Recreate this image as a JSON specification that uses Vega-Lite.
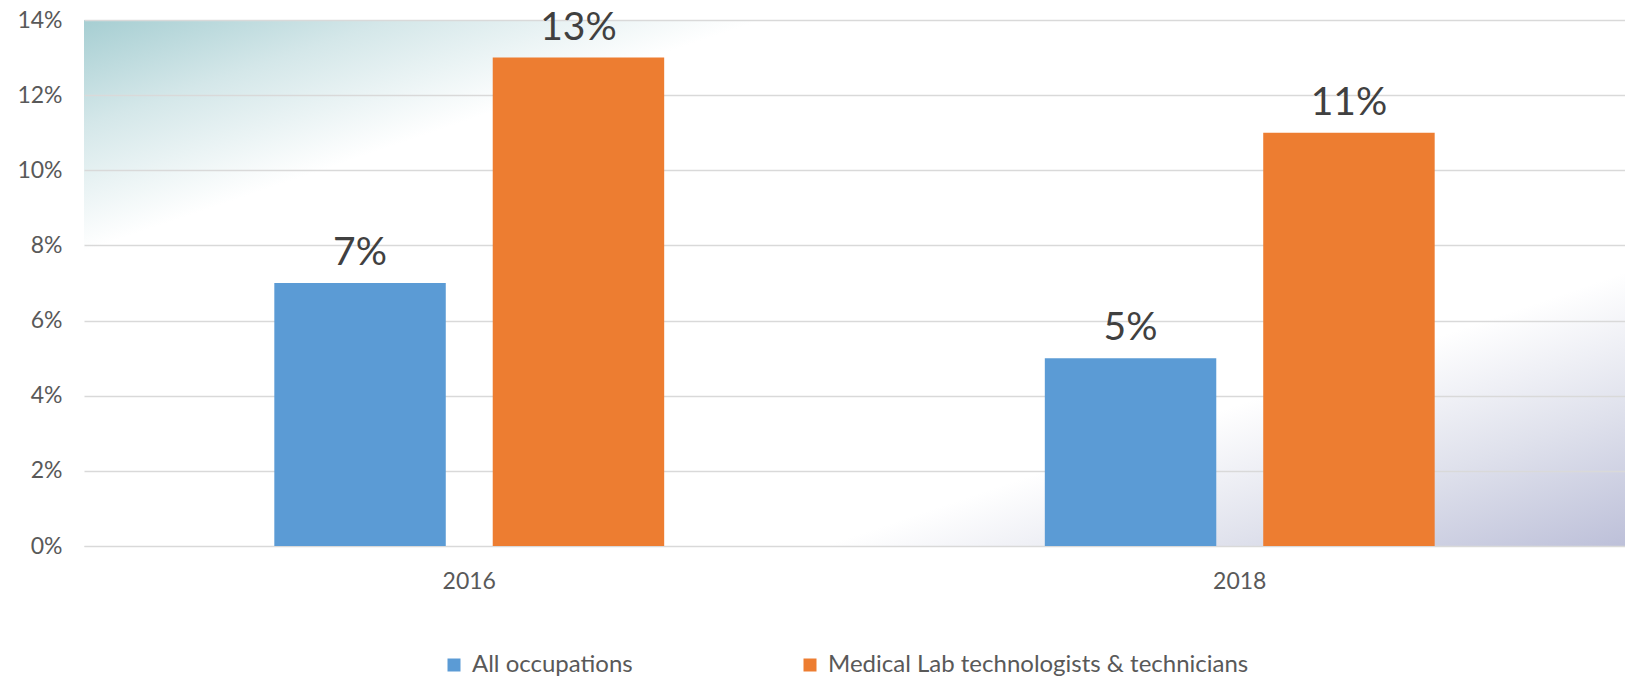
{
  "$schema": "https://vega.github.io/schema/vega-lite/v6.json",
  "width": 1541,
  "height": 526,
  "autosize": {"type": "none"},
  "padding": {"left": 84, "top": 20, "right": 0, "bottom": 133},
  "background": "#ffffff",
  "config": {
    "view": {
      "stroke": null,
      "fill": {
        "gradient": "linear", "x1": 0, "y1": 0, "x2": 1, "y2": 1,
        "stops": [
          {"offset": 0, "color": "#A6CED2"},
          {"offset": 0.1, "color": "#D4E7E9"},
          {"offset": 0.22, "color": "#FFFFFF"},
          {"offset": 0.74, "color": "#FFFFFF"},
          {"offset": 0.87, "color": "#DFE1EC"},
          {"offset": 1, "color": "#BDC0D9"}
        ]
      }
    },
    "font": "Lato",
    "axis": {"labelFont": "Lato", "labelColor": "#595959", "labelFontSize": 23, "title": null},
    "legend": {"labelFont": "Lato"}
  },
  "data": {
    "values": [
      {"year": "2016", "group": "All occupations", "value": 0.07},
      {"year": "2016", "group": "Medical Lab technologists & technicians", "value": 0.13},
      {"year": "2018", "group": "All occupations", "value": 0.05},
      {"year": "2018", "group": "Medical Lab technologists & technicians", "value": 0.11}
    ]
  },
  "encoding": {
    "x": {
      "field": "year", "type": "nominal",
      "scale": {"paddingInner": 0.494, "paddingOuter": 0.247},
      "axis": {"labelAngle": 0, "ticks": false, "domainColor": "#D9D9D9", "domainWidth": 1, "labelPadding": 24, "grid": false}
    },
    "xOffset": {
      "field": "group", "type": "nominal",
      "scale": {"paddingInner": 0.215, "paddingOuter": 0}
    },
    "y": {
      "field": "value", "type": "quantitative",
      "scale": {"domain": [0, 0.14], "nice": false},
      "axis": {
        "values": [0, 0.02, 0.04, 0.06, 0.08, 0.1, 0.12, 0.14],
        "format": ".0%", "domain": false, "ticks": false, "labelPadding": 22,
        "gridColor": "#D9D9D9", "gridWidth": 1.3
      }
    }
  },
  "layer": [
    {
      "mark": {"type": "bar"},
      "encoding": {
        "color": {
          "field": "group", "type": "nominal",
          "scale": {"domain": ["All occupations", "Medical Lab technologists & technicians"], "range": ["#5B9BD5", "#ED7D31"]},
          "legend": {
            "title": null, "orient": "none", "direction": "horizontal",
            "legendX": 358, "legendY": 633,
            "symbolType": "square", "symbolSize": 169, "symbolStrokeWidth": 0,
            "labelFontSize": 24, "labelColor": "#595959", "labelOffset": 6, "labelLimit": 800,
            "columnPadding": 165, "padding": 0
          }
        }
      }
    },
    {
      "mark": {"type": "text", "align": "center", "baseline": "alphabetic", "dy": -18, "fontSize": 39, "color": "#404040"},
      "encoding": {
        "text": {"field": "value", "type": "quantitative", "format": ".0%"}
      }
    }
  ]
}
